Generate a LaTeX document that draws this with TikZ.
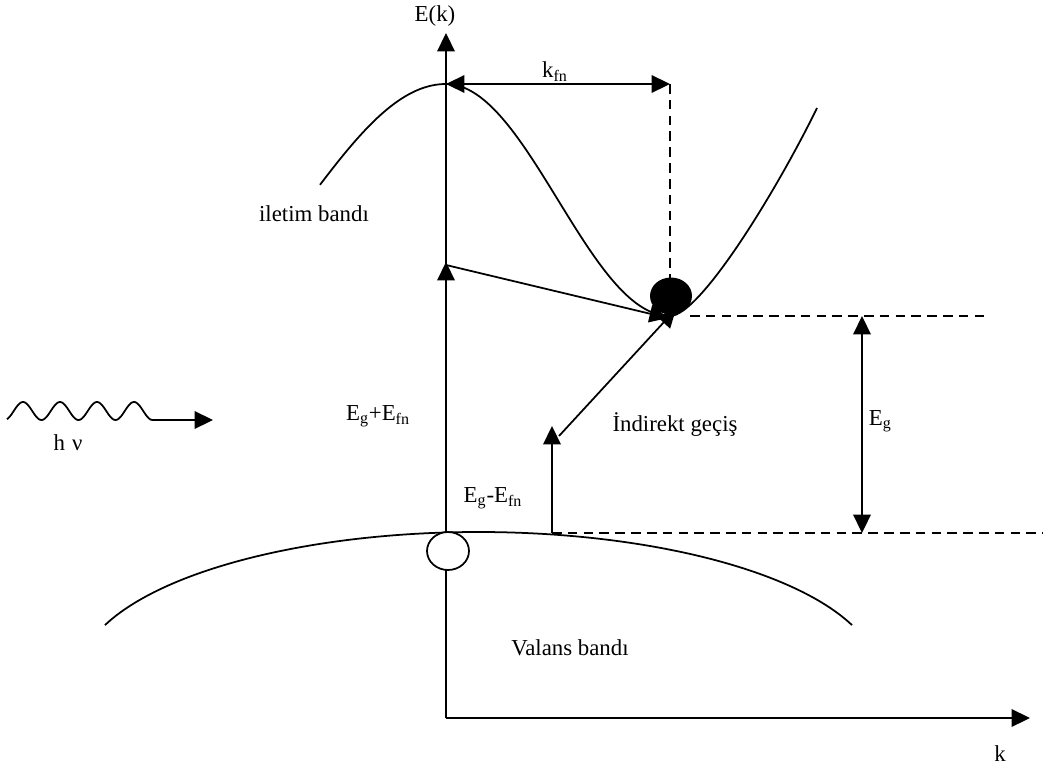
\documentclass[tikz,border=0pt]{standalone}
\usepackage{fontspec}
\setmainfont{Liberation Serif}
\usetikzlibrary{arrows.meta,shapes.geometric}
\begin{document}
\begin{tikzpicture}[x=0.02cm,y=-0.02cm, line width=1pt,
  tip/.tip={Triangle[length=10.5pt,width=10pt]},
  arr/.style={-tip},
  darr/.style={tip-tip},
  dline/.style={dash pattern=on 5.5pt off 3.5pt, line width=0.9pt},
  band/.style={line width=1pt},
  lbl/.style={font=\fontsize{13}{15}\selectfont, inner sep=0pt}]
\useasboundingbox (0,0) rectangle (1045,771);
% axes
\coordinate (O) at (446,718);
\coordinate (Ytop) at (446,33);
\coordinate (Xend) at (1030,718);
\draw[arr] (O) -- (Ytop);
\draw[arr] (O) -- (Xend);
% conduction band
\draw[band] plot[domain=320:446, samples=80, smooth] (\x, {84+116*(1-cos(0.6545*(\x-446)))});
\draw[band] plot[domain=446:670, samples=120, smooth] (\x, {200-116*cos(0.80357*(\x-446))});
\coordinate (Cmin) at (670,316);
\coordinate (Cend) at (817,108);
\draw[band] (Cmin) .. controls (700,316) and (777,190) .. (Cend);
% valence band
\draw[band] plot[domain=105:852, samples=200, smooth] (\x, {532+145*(1-sqrt(1-((\x-478.5)/400)^2))});
% key coordinates
\coordinate (Ctop) at (446,84);
\coordinate (Kend) at (670,84);
\coordinate (Vtop) at (446,532);
\coordinate (Amid) at (446,262);
\coordinate (Astart) at (446,265);
\coordinate (Bin1) at (668,318);
\coordinate (Bin2) at (676,309);
\coordinate (Vb) at (552,533);
\coordinate (Vt) at (552,426);
\coordinate (Ds) at (559,436);
% dashed lines
\coordinate (Dv) at (670,278);
\coordinate (Dh1a) at (690,316);
\coordinate (Dh1b) at (985,316);
\coordinate (Dh2b) at (1043,533);
\draw[dline] (Kend) -- (Dv);
\draw[dline] (Dh1a) -- (Dh1b);
\draw[dline] (Vb) -- (Dh2b);
% arrows
\draw[darr] (Ctop) -- (Kend);
\draw[arr] (Vtop) -- (Amid);
\draw[arr] (Astart) -- (Bin1);
\draw[arr] (Vb) -- (Vt);
\draw[arr] (Ds) -- (Bin2);
\coordinate (EgT) at (862,316);
\coordinate (EgB) at (862,533);
\draw[darr] (EgT) -- (EgB);
% electron and hole
\node[ellipse, fill=black, minimum width=0.84cm, minimum height=0.74cm, inner sep=0pt] (ball) at (671,296) {};
\node[ellipse, draw, fill=white, minimum width=0.84cm, minimum height=0.76cm, inner sep=0pt] (hole) at (448,551) {};
% photon
\draw plot[domain=7:152, samples=120, smooth] (\x, {411-9*cos(9.72973*(\x-23))});
\coordinate (Ws) at (152,420);
\coordinate (We) at (213,420);
\draw[arr] (Ws) -- (We);
% labels
\node[lbl] (lEk) at (435,16) {E(k)};
\node[lbl] (lkfn) at (555,72) {k\textsubscript{fn}};
\node[lbl] (lil) at (314,214) {iletim bandı};
\node[lbl] (lEp) at (378,416) {E\textsubscript{g}+E\textsubscript{fn}};
\node[lbl] (lEm) at (493,498) {E\textsubscript{g}-E\textsubscript{fn}};
\node[lbl] (lind) at (675,425) {İndirekt geçiş};
\node[lbl, anchor=west] (lEg) at (868,421) {E\textsubscript{g}};
\node[lbl] (lhv) at (68,443) {h\hspace{4pt}ν};
\node[lbl] (lval) at (570,648) {Valans bandı};
\node[lbl] (lk) at (1000,754) {k};
\end{tikzpicture}
\end{document}
